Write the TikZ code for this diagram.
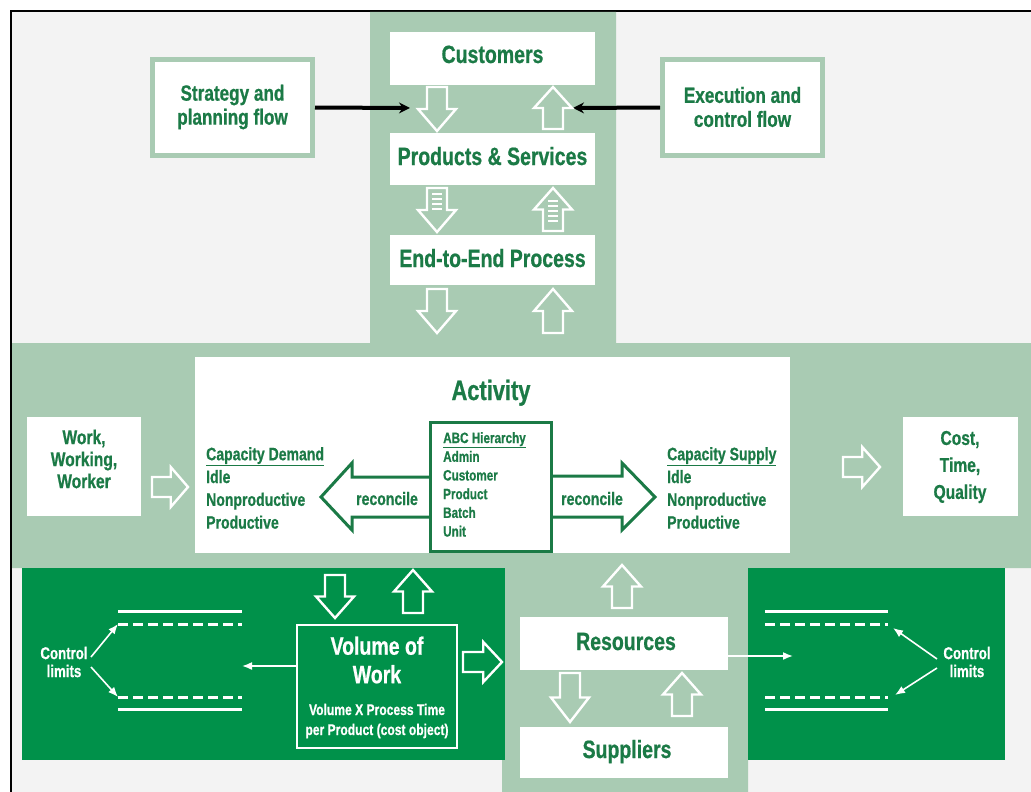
\documentclass[tikz,border=0pt]{standalone}
\usepackage{fontspec}
\setmainfont{Liberation Sans}[FakeStretch=0.78,BoldFeatures={FakeBold=0.7}]
\usetikzlibrary{arrows.meta}
\definecolor{band}{RGB}{169,203,179}
\definecolor{dkg}{RGB}{0,145,74}
\definecolor{txt}{RGB}{27,122,70}
\definecolor{bg}{RGB}{243,243,243}
\newcommand\fz[2]{\fontsize{#1}{#2}\selectfont\bfseries}
% hollow arrows drawn directly: style, cx, ytop, ybot
\newcommand\hdn[4]{\draw[#1] ({#2-10},#3) -- ({#2-10},{(#3+#4)/2}) -- ({#2-19},{(#3+#4)/2}) -- (#2,#4) -- ({#2+19},{(#3+#4)/2}) -- ({#2+10},{(#3+#4)/2}) -- ({#2+10},#3) -- cycle;}
\newcommand\hup[4]{\draw[#1] ({#2-10},#4) -- ({#2-10},{(#3+#4)/2}) -- ({#2-19},{(#3+#4)/2}) -- (#2,#3) -- ({#2+19},{(#3+#4)/2}) -- ({#2+10},{(#3+#4)/2}) -- ({#2+10},#4) -- cycle;}
% style, cy, xleft, xright
\newcommand\hrt[4]{\draw[#1] (#3,{#2-10}) -- ({#3+0.52*(#4-#3)},{#2-10}) -- ({#3+0.52*(#4-#3)},{#2-20}) -- (#4,#2) -- ({#3+0.52*(#4-#3)},{#2+20}) -- ({#3+0.52*(#4-#3)},{#2+10}) -- (#3,{#2+10}) -- cycle;}
\begin{document}
\begin{tikzpicture}[x=1pt,y=-1pt,
  hol/.style={draw=white,line width=2.4,fill=band,line join=miter},
  hold/.style={draw=white,line width=2.4,fill=dkg,line join=miter},
  wbox/.style={fill=white,draw=none,inner sep=0},
  fbox/.style={fill=white!97!bg,draw=band,line width=5,inner sep=0},
  lbl/.style={text=txt,inner sep=0,font=\fz{25}{28}},
  lst/.style={text=txt,inner sep=0,align=left,anchor=north west},
  blk/.style={line width=4,-{Stealth[length=11,width=11]}},
  wthin/.style={white,line width=1.6,-{Latex[length=10,width=8]}},
  wline/.style={white,line width=3},
  wdash/.style={white,line width=3,dash pattern=on 10 off 5},
  rec/.style={draw=txt,line width=3,fill=white,line join=miter}]
\useasboundingbox (0,0) rectangle (1031,792);
\fill[white] (0,0) rectangle (1031,792);
\draw[line width=2,fill=bg] (11,11) rectangle (1045,805);
% light green band
\fill[band] (370,12) -- (616,12) -- (616,343) -- (1031,343) -- (1031,568) -- (748,568) -- (748,792) -- (502,792) -- (502,568) -- (12,568) -- (12,343) -- (370,343) -- cycle;
% dark green panels
\node[fill=dkg,inner sep=0,minimum width=483,minimum height=192] (ldark) at (263.5,664) {};
\node[fill=dkg,inner sep=0,minimum width=257,minimum height=192] (rdark) at (876.5,664) {};

% top column boxes
\node[wbox,minimum width=205,minimum height=53] (cust) at (492.5,58.5) {};
\node[lbl,anchor=base] (custt) at (492.5,63) {Customers};
\node[wbox,minimum width=205,minimum height=52] (prod) at (492.5,159) {};
\node[lbl,anchor=base] (prodt) at (492.5,165) {Products \& Services};
\node[wbox,minimum width=205,minimum height=50] (e2e) at (492.5,260) {};
\node[lbl,anchor=base] (e2et) at (492.5,267) {End-to-End Process};

% side flow boxes
\node[fbox,minimum width=160,minimum height=96] (strat) at (232.5,107.5) {};
\node[text=txt,inner sep=0,align=center,font=\fz{22}{24}] (stratt) at (232.5,107) {Strategy and\\planning flow};
\node[fbox,minimum width=160,minimum height=96] (exec) at (742.5,107.5) {};
\node[text=txt,inner sep=0,align=center,font=\fz{22}{24}] (exect) at (742.5,107) {Execution and\\control flow};
\coordinate (sin) at (410,108);
\coordinate (ein) at (573,108);
\draw[blk] (strat.east) -- (sin);
\draw[blk] (exec.west) -- (ein);

% hollow arrows top column
\hdn{hol}{437}{87}{131}
\hup{hol}{553}{87}{129}
\hdn{hol}{437}{188}{232}
\hup{hol}{553}{188}{231}
\foreach \yy in {194,199,204,209} {\draw[white,line width=1.2] (432,\yy) -- (442,\yy);}
\foreach \yy in {201,206,211,216,221} {\draw[white,line width=1.2] (548,\yy) -- (558,\yy);}
\hdn{hol}{437}{289}{333}
\hup{hol}{553}{289}{333}

% activity box
\node[wbox,minimum width=595,minimum height=196] (act) at (492.5,455) {};
\node[text=txt,inner sep=0,anchor=base,font=\fz{28}{30}] (actt) at (491,400) {Activity};

% work / cost boxes
\node[wbox,minimum width=114,minimum height=99] (work) at (84,466.5) {};
\node[text=txt,inner sep=0,align=center,font=\fz{20}{22}] (workt) at (84,459) {Work,\\Working,\\Worker};
\node[wbox,minimum width=115,minimum height=99] (cost) at (960.5,466.5) {};
\node[text=txt,inner sep=0,align=center,font=\fz{20}{27}] (costt) at (960,467) {Cost,\\Time,\\Quality};
\hrt{hol}{487}{152}{188}
\hrt{hol}{467}{843}{880}

% reconcile arrows
\draw[rec] (431,477) -- (352,477) -- (352,463) -- (321,497) -- (352,530) -- (352,517) -- (431,517);
\draw[rec] (552,476) -- (622,476) -- (622,463) -- (655,497) -- (622,530) -- (622,517) -- (552,517);
\node[text=txt,inner sep=0,anchor=base,font=\fz{18}{20}] (rec1) at (387,505) {reconcile};
\node[text=txt,inner sep=0,anchor=base,font=\fz{18}{20}] (rec2) at (592,505) {reconcile};

% ABC box
\node[rec,inner sep=0,minimum width=121,minimum height=129] (abc) at (491,486.5) {};
\node[lst,font=\fz{15}{18.7}] (abct) at (443,432) {\underline{ABC Hierarchy}\\Admin\\Customer\\Product\\Batch\\Unit};

% capacity lists
\node[lst,font=\fz{18}{22.8}] (cdem) at (206,447) {\underline{Capacity Demand}\\Idle\\Nonproductive\\Productive};
\node[lst,font=\fz{18}{22.8}] (csup) at (667,447) {\underline{Capacity Supply}\\Idle\\Nonproductive\\Productive};

% bottom left panel
\hdn{hold}{335}{575}{618}
\hup{hold}{413}{570}{613}
\node[draw=white,line width=1.5,inner sep=0,minimum width=160,minimum height=123] (vol) at (377,686.5) {};
\node[text=white,inner sep=0,align=center,font=\fz{25}{28.5}] (volt) at (377,660) {Volume of\\Work};
\node[text=white,inner sep=0,align=center,font=\fz{15.5}{20}] (vols) at (377,721) {Volume X Process Time\\per Product (cost object)};
\hrt{hold}{662}{463}{502}
\coordinate (vend) at (242,666);
\draw[wthin] (vol.west |- vend) -- (vend);
\draw[wline] (118,611) -- (242,611);
\draw[wdash] (118,624) -- (242,624);
\draw[wdash] (118,697) -- (242,697);
\draw[wline] (118,709) -- (242,709);
\node[text=white,inner sep=0,align=center,font=\fz{17}{18}] (cl1) at (64,662) {Control\\limits};
\coordinate (a1) at (118,624);
\coordinate (a2) at (118,697);
\draw[wthin] (91,657) -- (a1);
\draw[wthin] (91,667) -- (a2);

% bottom centre column
\hup{hol}{622}{565}{608}
\node[wbox,minimum width=208,minimum height=53] (res) at (624,643.5) {};
\node[lbl,anchor=base] (rest) at (626,650) {Resources};
\hdn{hol}{570}{673}{722}
\hup{hol}{682}{673}{716}
\node[wbox,minimum width=208,minimum height=51] (sup) at (624,752.5) {};
\node[lbl,anchor=base] (supt) at (627,758) {Suppliers};

% bottom right panel
\coordinate (rend) at (793,656);
\draw[wthin] (res.east |- rend) -- (rend);
\draw[wline] (765,611) -- (888,611);
\draw[wdash] (765,624) -- (888,624);
\draw[wdash] (765,697) -- (888,697);
\draw[wline] (765,709) -- (888,709);
\node[text=white,inner sep=0,align=center,font=\fz{17}{18}] (cl2) at (967,662) {Control\\limits};
\coordinate (b1) at (893,628);
\coordinate (b2) at (895,695);
\draw[wthin] (937,659) -- (b1);
\draw[wthin] (937,668) -- (b2);
\end{tikzpicture}
\end{document}
